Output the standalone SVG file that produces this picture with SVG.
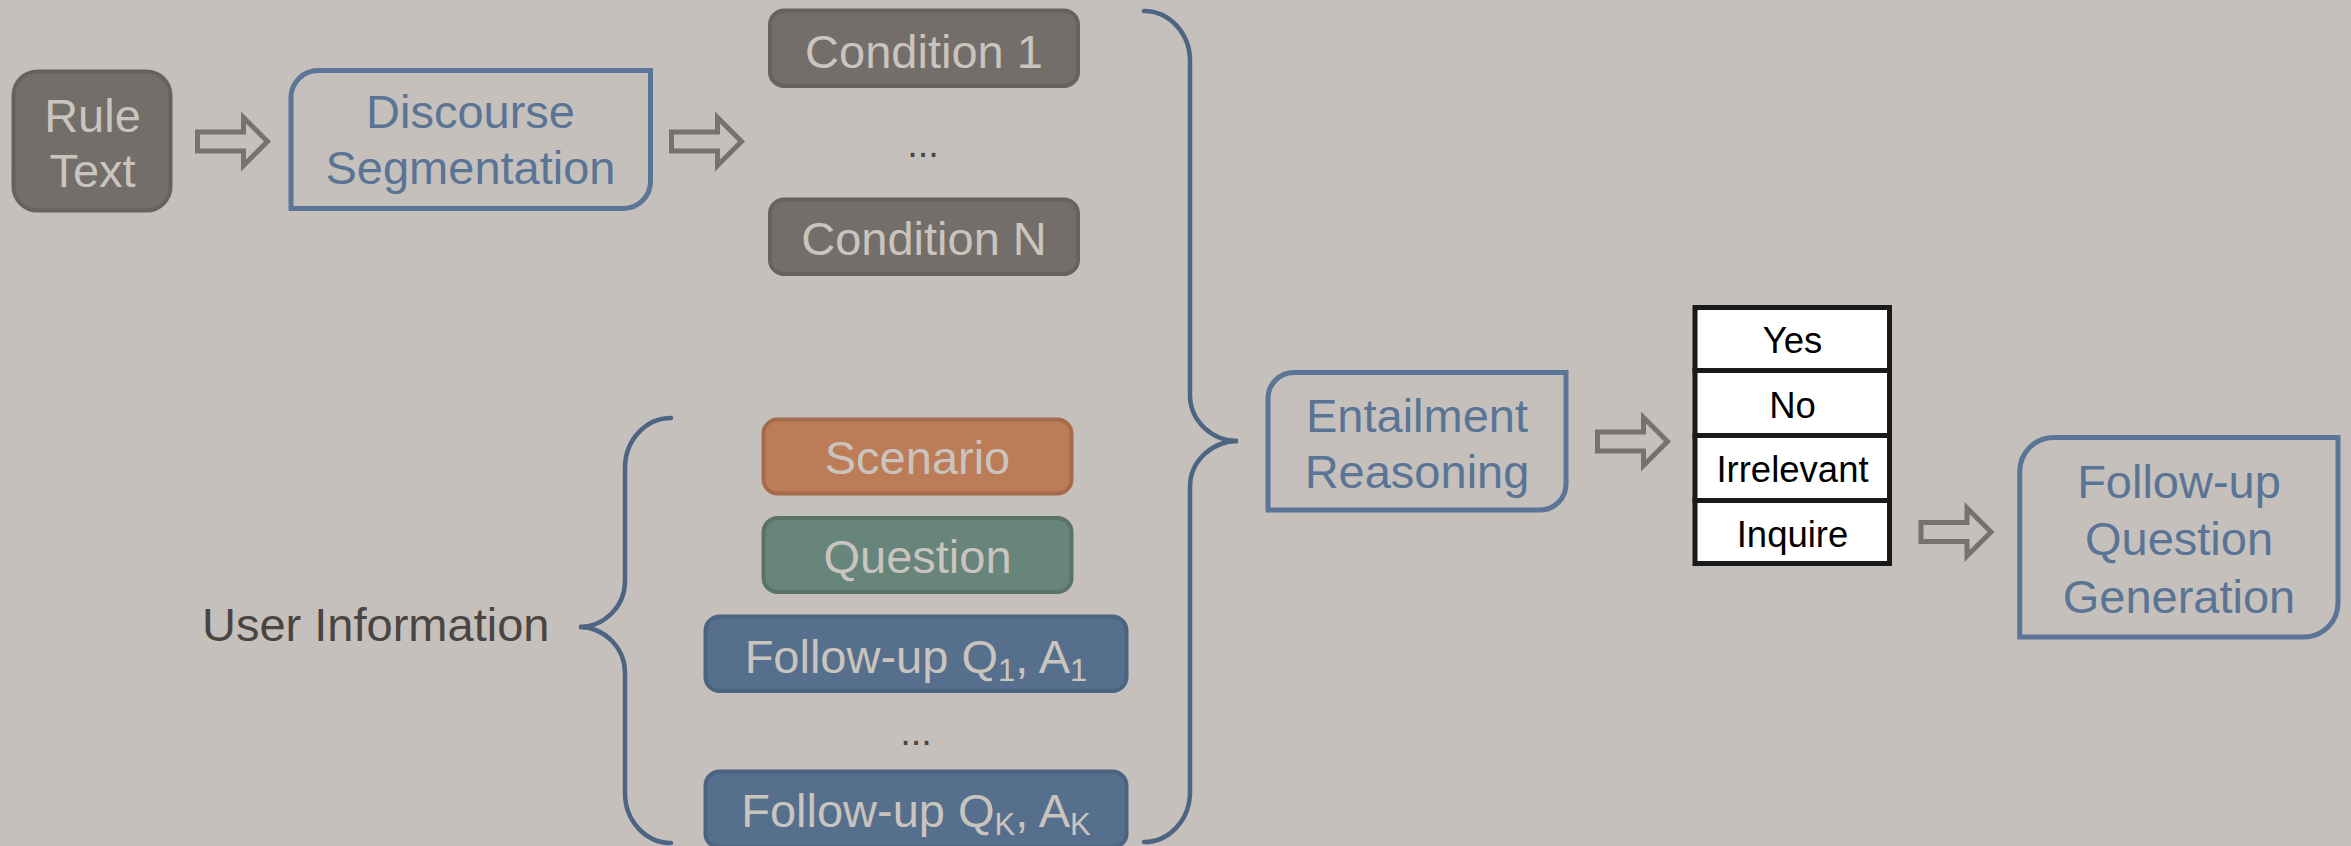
<svg xmlns="http://www.w3.org/2000/svg" width="2351" height="846" viewBox="0 0 2351 846">
<style>
text{font-family:"Liberation Sans",Arial,sans-serif;}
.bg{fill:#c5c0bb;}
.gray{fill:#736e6a;stroke:#67625e;stroke-width:4;}
.orange{fill:#bc7c57;stroke:#a46b4c;stroke-width:4;}
.green{fill:#67857a;stroke:#5a7268;stroke-width:4;}
.blue{fill:#566f8c;stroke:#4b6280;stroke-width:4;}
.outline{fill:none;stroke:#5a7597;stroke-width:5;}
.lt{fill:#cac4be;font-size:47px;text-anchor:middle;}
.bt{fill:#5a7496;font-size:47px;text-anchor:middle;}
.dk{fill:#4a4542;font-size:47px;}
.dots{fill:#4a4542;font-size:38px;text-anchor:middle;}
.brace{fill:none;stroke:#4e6483;stroke-width:4.5;stroke-linecap:round;}
.arrow{fill:none;stroke:#77726e;stroke-width:5;stroke-linejoin:miter;}
.cell{fill:#ffffff;stroke:#1a1a1a;stroke-width:5;}
.tt{fill:#000000;font-size:36.5px;text-anchor:middle;}
</style>
<defs>
<path id="blockArrow" d="M0,-9.5 L46,-9.5 L46,-24 L70,0 L46,24 L46,9.5 L0,9.5 Z"/>
</defs>
<rect class="bg" x="0" y="0" width="2351" height="846"/>

<g id="rule-text">
<rect class="gray" x="13.5" y="71.5" width="157" height="139" rx="24"/>
<text class="lt" x="92.5" y="132">Rule</text>
<text class="lt" x="92.5" y="187">Text</text>
</g>

<g id="discourse-segmentation">
<path class="outline" d="M291,97.5 A27,27 0 0 1 318,70.5 L650.5,70.5 L650.5,181.5 A27,27 0 0 1 623.5,208.5 L291,208.5 Z"/>
<text class="bt" x="470.5" y="128">Discourse</text>
<text class="bt" x="470.5" y="184">Segmentation</text>
</g>

<g id="condition-1">
<rect class="gray" x="770" y="10.5" width="308" height="75.5" rx="14"/>
<text class="lt" x="924" y="68">Condition 1</text>
</g>
<g id="condition-dots">
<text class="dots" x="923" y="157">...</text>
</g>
<g id="condition-n">
<rect class="gray" x="770" y="199.5" width="308" height="74.5" rx="14"/>
<text class="lt" x="924" y="255">Condition N</text>
</g>

<g id="scenario">
<rect class="orange" x="763.5" y="419.5" width="308" height="74" rx="14"/>
<text class="lt" x="917.5" y="474">Scenario</text>
</g>
<g id="question">
<rect class="green" x="763.5" y="518" width="308" height="74" rx="14"/>
<text class="lt" x="917.5" y="573">Question</text>
</g>
<g id="follow-up-1">
<rect class="blue" x="705.5" y="616.5" width="421" height="74.5" rx="14"/>
<text class="lt" x="916" y="673">Follow-up Q<tspan font-size="31" dy="8">1</tspan><tspan dy="-8">, A</tspan><tspan font-size="31" dy="8">1</tspan></text>
</g>
<g id="follow-up-dots">
<text class="dots" x="916" y="745">...</text>
</g>
<g id="follow-up-k">
<rect class="blue" x="705.5" y="771.5" width="421" height="76" rx="14"/>
<text class="lt" x="916" y="827">Follow-up Q<tspan font-size="31" dy="8">K</tspan><tspan dy="-8">, A</tspan><tspan font-size="31" dy="8">K</tspan></text>
</g>

<g id="user-information">
<text class="dk" x="202" y="641">User Information</text>
</g>

<g id="entailment-reasoning">
<path class="outline" d="M1268,398.5 A26,26 0 0 1 1294,372.5 L1566,372.5 L1566,484 A26,26 0 0 1 1540,510 L1268,510 Z"/>
<text class="bt" x="1417" y="431.5">Entailment</text>
<text class="bt" x="1417" y="487.5">Reasoning</text>
</g>

<g id="decision-table">
<rect class="cell" x="1695" y="307.5" width="194.5" height="63"/>
<rect class="cell" x="1695" y="370.5" width="194.5" height="65"/>
<rect class="cell" x="1695" y="435.5" width="194.5" height="65"/>
<rect class="cell" x="1695" y="500.5" width="194.5" height="63"/>
<text class="tt" x="1792.5" y="353">Yes</text>
<text class="tt" x="1792.5" y="418">No</text>
<text class="tt" x="1792.5" y="482">Irrelevant</text>
<text class="tt" x="1792.5" y="547">Inquire</text>
</g>

<g id="follow-up-question-generation">
<path class="outline" d="M2019.7,471.5 A34,34 0 0 1 2053.7,437.5 L2338,437.5 L2338,603 A34,34 0 0 1 2304,637 L2019.7,637 Z"/>
<text class="bt" x="2179" y="498">Follow-up</text>
<text class="bt" x="2179" y="555">Question</text>
<text class="bt" x="2179" y="613">Generation</text>
</g>

<g id="connectors">
<use href="#blockArrow" class="arrow" transform="translate(197.5,141.5)"/>
<use href="#blockArrow" class="arrow" transform="translate(671.5,141.5)"/>
<use href="#blockArrow" class="arrow" transform="translate(1597.5,441.5)"/>
<use href="#blockArrow" class="arrow" transform="translate(1921,532)"/>
<path class="brace" d="M1144,11 A46,50 0 0 1 1190,61 L1190,395 A48,46 0 0 0 1238,441 A48,46 0 0 0 1190,487 L1190,792 A46,50 0 0 1 1144,842"/>
<path class="brace" d="M671,418 A46,50 0 0 0 625,468 L625,581 A46,46 0 0 1 579,627 A46,46 0 0 1 625,673 L625,793 A46,50 0 0 0 671,843"/>
</g>
</svg>
